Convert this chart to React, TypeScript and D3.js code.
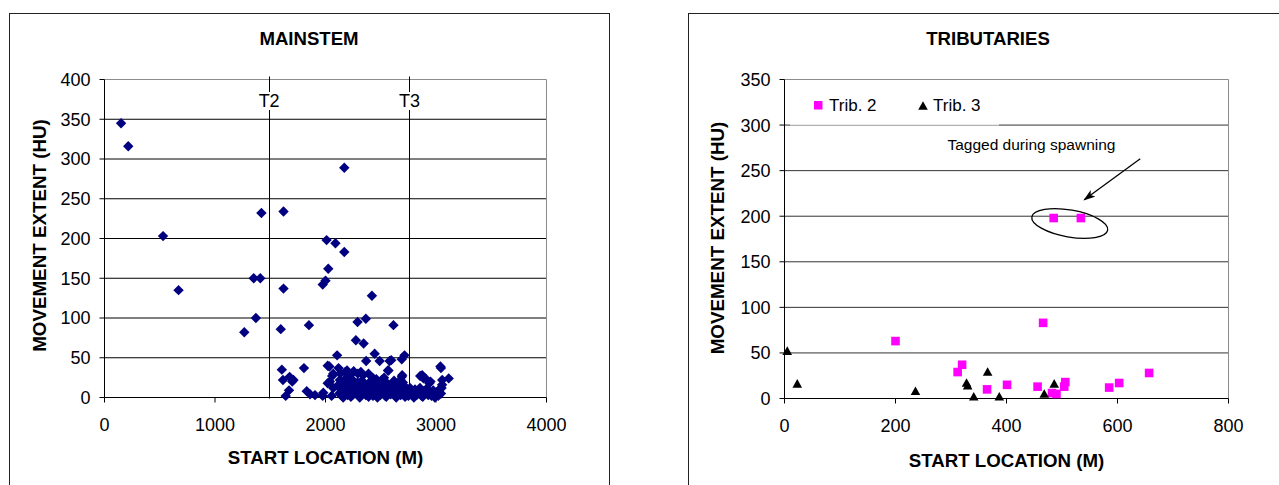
import React from "react";
import * as d3 from "d3";

// mainstem fish: start location (m) and movement extent (HU)
const mainX = [
  150, 215, 530, 670, 1265, 1350, 1410, 1370, 1420, 1620, 1620, 1595, 1850, 2170, 2010, 2090, 2170, 2025, 1975, 2000,
  2420, 2290, 2365, 2615, 2275, 2345, 2105, 2445, 2715, 2690, 2490, 2595, 2580, 2368, 3040, 3045, 3115, 1605, 1805, 1615,
  1675, 1710, 1670, 1640, 1830, 1860, 1905, 1980, 1975, 2035, 2020, 2060, 2020, 2118, 2195, 2255, 2320, 2340, 2565, 2691,
  2857, 2887, 2940, 3055, 1699, 2070, 2040, 2070, 2055, 2293, 2389, 2434, 2510, 2178, 2224, 2133, 2875, 2905, 2950, 2694,
  2680, 3056, 2570,
  2110, 2125, 2140, 2150, 2160, 2175, 2190, 2200, 2215, 2225, 2240, 2250, 2265, 2280, 2290, 2300, 2315, 2325, 2340, 2355,
  2365, 2380, 2395, 2405, 2420, 2430, 2445, 2455, 2470, 2485, 2495, 2510, 2525, 2540, 2550, 2560, 2575, 2590, 2600, 2615,
  2630, 2640, 2655, 2665, 2680, 2695, 2710, 2720, 2735, 2750, 2765, 2780, 2795, 2810, 2825, 2840, 2855, 2870, 2885, 2900,
  2915, 2930, 2945, 2960, 2975, 2990, 3005, 3020, 3030, 3045, 3050, 2130, 2185, 2245, 2330, 2460, 2530, 2620, 2700, 2160,
  2230, 2310, 2390, 2470, 2550, 2640, 2720, 2800, 2880, 2990,
];
const mainY = [
  345, 316, 203, 135, 82, 150, 150, 100, 232, 234, 137, 86, 91, 289, 198, 194, 183, 162, 142, 147,
  128, 95, 99, 91, 72, 68, 53, 55, 53, 48, 46, 47, 46, 46, 39, 37, 24, 35, 37, 22,
  26, 22, 9, 2, 8, 4, 3, 6, 2, 39, 40, 27, 18, 37, 34, 33, 32, 28, 34, 26,
  27, 24, 18, 16, 20, 30, 20, 12, 2, 30, 30, 24, 22, 32, 28, 30, 28, 24, 20, 28,
  22, 22, 34,
  15, 5, 10, 2, 18, 8, 14, 3, 20, 9, 16, 4, 12, 7, 19, 2, 14, 6, 10, 17,
  3, 12, 6, 20, 9, 2, 15, 5, 11, 18, 3, 8, 14, 2, 19, 7, 12, 4, 16, 9,
  2, 13, 6, 18, 3, 10, 15, 5, 8, 2, 12, 6, 4, 10, 3, 7, 12, 2, 8, 5,
  11, 3, 7, 2, 9, 4, 6, 2, 10, 5, 12, 22, 24, 22, 21, 23, 25, 21, 19, 0,
  1, 0, 1, 0, 1, 0, 1, 0, 1, 0,
];

// tributary fish
const trib2X = [200, 312, 320, 365, 401, 456, 466, 485, 534, 482, 490, 504, 506, 585, 603, 657];
const trib2Y = [63, 29, 37, 10, 15, 13, 83, 198, 198, 6, 5, 13, 18, 12, 17, 28];
const trib3X = [5, 23, 236, 328, 330, 341, 366, 387, 468, 486];
const trib3Y = [52, 16, 8, 17, 14, 2, 29, 2, 5, 16];

const mainXTicks = [0, 1000, 2000, 3000, 4000];
const mainYTicks = [0, 50, 100, 150, 200, 250, 300, 350, 400];
const tribXTicks = [0, 200, 400, 600, 800];
const tribYTicks = [0, 50, 100, 150, 200, 250, 300, 350];

const tribMouths = ["T2", "T3"];
const tribMouthX = [1490, 2760];

const font = "'Liberation Sans', Arial, sans-serif";

const mx = d3.scaleLinear().domain([0, 4000]).range([104.5, 546.5]);
const my = d3.scaleLinear().domain([0, 400]).range([397.5, 79.5]);
const tx = d3.scaleLinear().domain([0, 800]).range([784.5, 1228.5]);
const ty = d3.scaleLinear().domain([0, 350]).range([398.5, 79.5]);

const diamond = "M0,-5.2L5.2,0L0,5.2L-5.2,0Z";
const triangle = "M0,-4.8L4.8,3.8L-4.8,3.8Z";

function Axes({ x, y, xTicks, yTicks, gridColor }) {
  const [x0, x1] = x.range();
  const [y0, y1] = y.range();
  const yMax = yTicks[yTicks.length - 1];
  return (
    <g>
      {yTicks.filter(t => t > 0 && t < yMax).map(t => (
        <line key={"g" + t} x1={x0} x2={x1} y1={y(t)} y2={y(t)} stroke={gridColor} />
      ))}
      <line x1={x0} x2={x1} y1={y1} y2={y1} stroke="#8c8c8c" />
      <line x1={x1} x2={x1} y1={y1} y2={y0} stroke="#8c8c8c" />
      <line x1={x0} x2={x0} y1={y1} y2={y0} stroke="#000" />
      <line x1={x0} x2={x1} y1={y0} y2={y0} stroke="#000" />
      {yTicks.map(t => (
        <g key={"y" + t}>
          <line x1={x0 - 5} x2={x0} y1={y(t)} y2={y(t)} stroke="#000" />
          <text x={x0 - 14} y={y(t)} dy="0.36em" textAnchor="end" fontSize={18}>{t}</text>
        </g>
      ))}
      {xTicks.map(t => (
        <g key={"x" + t}>
          <line x1={x(t)} x2={x(t)} y1={y0} y2={y0 + 5} stroke="#000" />
          <text x={x(t)} y={y0 + 33} textAnchor="middle" fontSize={18}>{t}</text>
        </g>
      ))}
    </g>
  );
}

function Mainstem() {
  const [x0, x1] = mx.range();
  const [y0, y1] = my.range();
  const cy = (y0 + y1) / 2;
  return (
    <g>
      <rect x={9.5} y={13.5} width={600} height={490} fill="#fff" stroke="#222" />
      <text x={309} y={45} textAnchor="middle" fontSize={18.6} fontWeight="bold">MAINSTEM</text>
      <Axes x={mx} y={my} xTicks={mainXTicks} yTicks={mainYTicks} gridColor="#000" />
      {tribMouths.map((m, i) => (
        <g key={m}>
          <line x1={Math.round(mx(tribMouthX[i])) + 0.5} x2={Math.round(mx(tribMouthX[i])) + 0.5}
            y1={y1 - 3} y2={y0 + 1} stroke="#000" />
          <rect x={mx(tribMouthX[i]) - 13} y={my(373) - 9} width={26} height={18} fill="#fff" />
          <text x={mx(tribMouthX[i])} y={my(373)} dy="0.36em" textAnchor="middle" fontSize={18}>{m}</text>
        </g>
      ))}
      {mainX.map((v, i) => (
        <path key={i} d={diamond} transform={`translate(${mx(v)},${my(mainY[i])})`} fill="#000080" />
      ))}
      <text x={(x0 + x1) / 2} y={464} textAnchor="middle" fontSize={18.7} fontWeight="bold">START LOCATION (M)</text>
      <text transform={`translate(46,${cy - 3}) rotate(-90)`} textAnchor="middle" fontSize={18.8} fontWeight="bold">
        MOVEMENT EXTENT (HU)
      </text>
    </g>
  );
}

function Tributaries() {
  const [x0, x1] = tx.range();
  const [y0, y1] = ty.range();
  const cy = (y0 + y1) / 2;
  const ecx = tx(514);
  const ecy = ty(192);
  return (
    <g>
      <defs>
        <marker id="arrow" viewBox="0 0 12 8" refX={11} refY={4} markerWidth={12} markerHeight={8}
          markerUnits="userSpaceOnUse" orient="auto">
          <path d="M0,0L12,4L0,8L3,4Z" fill="#000" />
        </marker>
      </defs>
      <rect x={688.5} y={13.5} width={600} height={490} fill="#fff" stroke="#222" />
      <text x={988} y={45} textAnchor="middle" fontSize={18.6} fontWeight="bold">TRIBUTARIES</text>
      <Axes x={tx} y={ty} xTicks={tribXTicks} yTicks={tribYTicks} gridColor="#333" />
      <rect x={790} y={86} width={209} height={39} fill="#fff" />
      <line x1={790} x2={999} y1={ty(300)} y2={ty(300)} stroke="#d0d0d0" />
      <rect x={814} y={101} width={8.5} height={8.5} fill="#ff00ff" />
      <text x={829} y={105} dy="0.36em" fontSize={17}>Trib. 2</text>
      <path d={triangle} transform="translate(923,106)" fill="#000" />
      <text x={933} y={105} dy="0.36em" fontSize={17}>Trib. 3</text>
      {trib2X.map((v, i) => (
        <rect key={"p" + i} x={tx(v) - 4.3} y={ty(trib2Y[i]) - 4.3} width={8.6} height={8.6} fill="#ff00ff" />
      ))}
      {trib3X.map((v, i) => (
        <path key={"t" + i} d={triangle} transform={`translate(${tx(v)},${ty(trib3Y[i])})`} fill="#000" />
      ))}
      <text x={tx(445)} y={ty(279)} dy="0.36em" textAnchor="middle" fontSize={15.5}>Tagged during spawning</text>
      <line x1={tx(641)} y1={ty(263)} x2={tx(540)} y2={ty(218)} stroke="#000" strokeWidth={1.3} markerEnd="url(#arrow)" />
      <ellipse cx={ecx} cy={ecy} rx={38.5} ry={13.5} transform={`rotate(10,${ecx},${ecy})`}
        fill="none" stroke="#000" strokeWidth={1.3} />
      <text x={(x0 + x1) / 2} y={467} textAnchor="middle" fontSize={18.7} fontWeight="bold">START LOCATION (M)</text>
      <text transform={`translate(724,${cy - 1}) rotate(-90)`} textAnchor="middle" fontSize={18.8} fontWeight="bold">
        MOVEMENT EXTENT (HU)
      </text>
    </g>
  );
}

export default function App() {
  return (
    <svg width={1279} height={485} style={{ position: "absolute", left: 0, top: 0, background: "#fff" }}
      fontFamily={font} shapeRendering="auto">
      <rect width={1279} height={485} fill="#fff" />
      <Mainstem />
      <Tributaries />
    </svg>
  );
}
